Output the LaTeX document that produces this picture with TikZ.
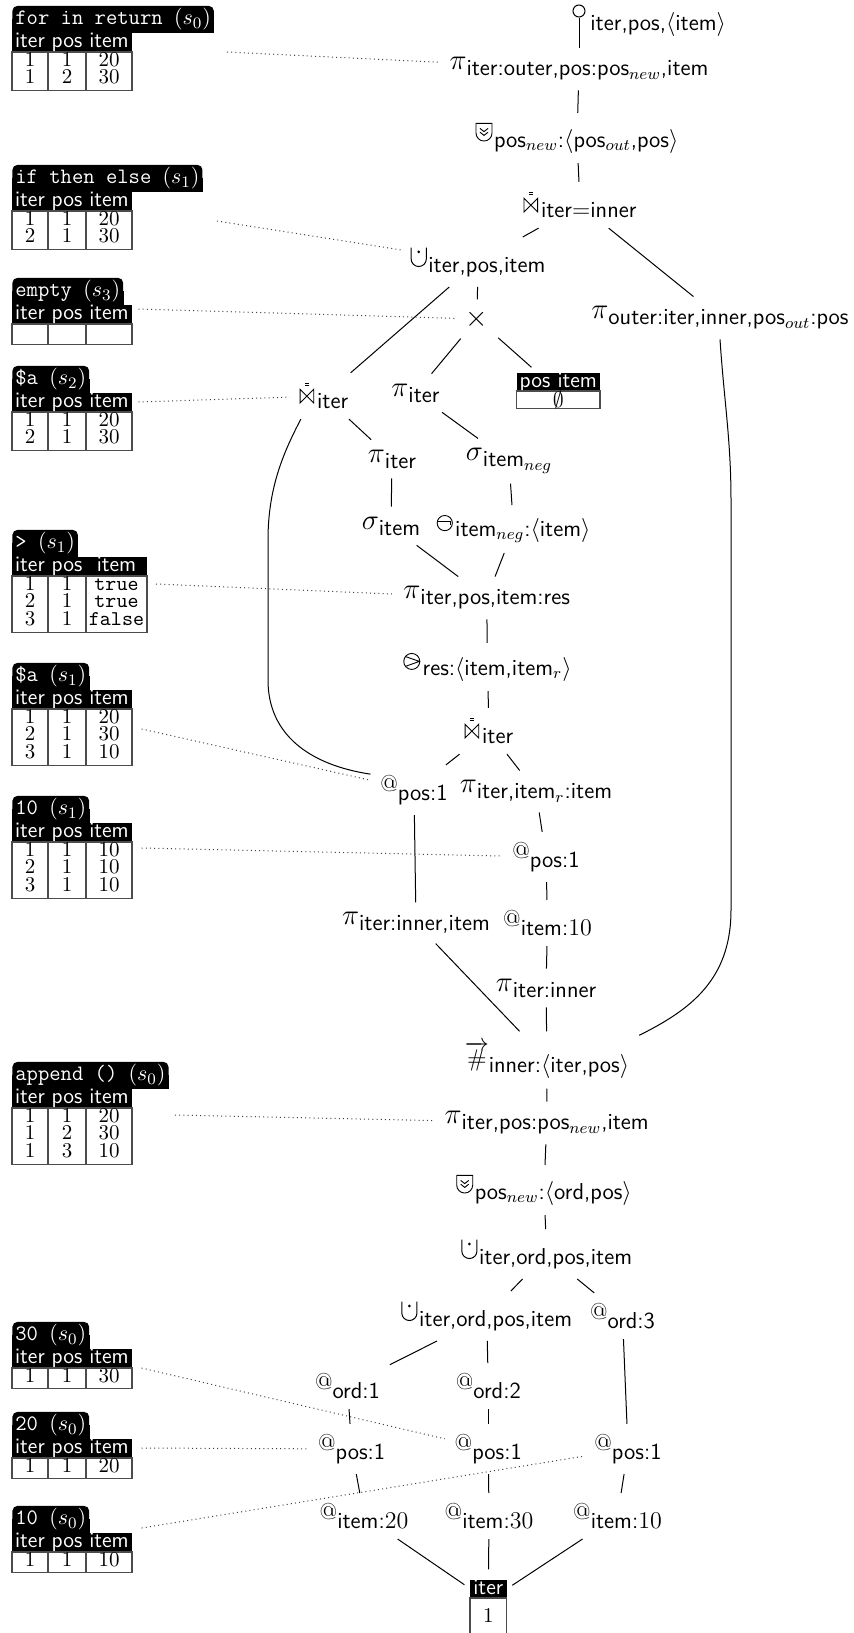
\documentclass[tikz,border=0pt]{standalone}
\usepackage{amsmath}
\usetikzlibrary{fit}
\pgfdeclarelayer{background}
\pgfsetlayers{background,main}

% font size helper
\newcommand{\fsz}[1]{\fontsize{#1}{#1}\selectfont}

% operator symbols
\newcommand{\symPi}{{\fsz{15}$\pi$}}
\newcommand{\symSigma}{{\fsz{15}$\sigma$}}
\newcommand{\symAt}{\raisebox{1.8pt}{\fsz{11.5}\rmfamily @}}
\newcommand{\symNum}{{\fsz{11.5}$\overrightarrow{\#}$}}
\newcommand{\symJoin}{\tikz[baseline=0pt,x=1pt,y=1pt,line width=0.45pt]{%
  \draw (0,0) -- (0,6.8) -- (6.8,0) -- (6.8,6.8) -- cycle;
  \draw (2.3,8.5) -- (4.5,8.5) (2.3,9.8) -- (4.5,9.8);}\hspace{1.5pt}}
\newcommand{\symUnion}{\tikz[baseline=0pt,x=1pt,y=1pt,line width=0.5pt]{%
  \draw (0,9.5) -- (0,3.8) arc[start angle=180,end angle=360,radius=3.8] -- (7.6,9.5);
  \fill (3.8,7.3) circle[radius=0.75];}\hspace{0.8pt}}
\newcommand{\symRank}{\tikz[baseline=0pt,x=1pt,y=1pt,line width=0.45pt]{%
  \draw (0,8.8) -- (0,4) arc[start angle=180,end angle=360,radius=4] -- (8,8.8) -- cycle;
  \draw (2,6.3) -- (4,4.7) -- (6,6.3) (2,4.4) -- (4,2.8) -- (6,4.4);}\hspace{0.8pt}}
\newcommand{\symNot}{\tikz[baseline=0pt,x=1pt,y=1pt,line width=0.45pt]{%
  \draw (3.8,3.6) circle[radius=3.8];
  \draw (0.4,4.3) -- (6.4,4.3) -- (6.4,2.8);}\hspace{1.2pt}}
\newcommand{\symCmp}{\tikz[baseline=0pt,x=1pt,y=1pt,line width=0.45pt]{%
  \draw (4,3.8) circle[radius=4];
  \draw (1,6.2) -- (7.8,3.8) -- (1,1.4);}\hspace{1.2pt}}
% operator symbol with its lowered annotation
\newcommand{\op}[2]{#1\raisebox{-3pt}{#2}}

% table frame: name, header top, width, title, number of rows
\newcommand{\pftab}[5]{%
  \node[tabtitle] (#1-t) at (12,#2) {#4};
  \begin{pgfonlayer}{background}
    \fill[black] (#1-t.west) rectangle (#1-t.south east);
  \end{pgfonlayer}
  \fill[black] (12,#2) rectangle (12+#3,#2+19);
  \node[hdrtext] (#1-h1) at (30,#2+14.8) {iter};
  \node[hdrtext] (#1-h2) at (67,#2+14.8) {pos};
  \node[hdrtext] (#1-h3) at (49+#3/2,#2+14.8) {item};
  \draw[tblline] (12,#2+19) rectangle (12+#3,#2+22+17.7*#5);
  \draw[tblline] (48,#2+19) -- (48,#2+22+17.7*#5) (86,#2+19) -- (86,#2+22+17.7*#5);
}
% table row: name, header top, width, row number, iter, pos, item
\newcommand{\pfrow}[7]{%
  \node[cell] (#1-#4a) at (30,#2+15.3+17.7*#4) {#5};
  \node[cell] (#1-#4b) at (67,#2+15.3+17.7*#4) {#6};
  \node[cell] (#1-#4c) at (49+#3/2,#2+15.3+17.7*#4) {#7};
}

\begin{document}
\begin{tikzpicture}[x=0.5pt,y=-0.5pt,
  opnode/.style={inner sep=5pt, outer sep=0pt, font=\fsz{11.5}\sffamily},
  link/.style={line width=0.5pt},
  dots/.style={line width=0.5pt, black!75, dash pattern=on 0.5pt off 1.6pt},
  tabtitle/.style={fill=black, text=white, rounded corners=2.5pt, inner xsep=1.5pt,
    inner ysep=1.2pt, font=\fsz{11}\ttfamily, anchor=south west},
  hdrtext/.style={text=white, inner sep=0pt, anchor=base, font=\fsz{11}\sffamily},
  cell/.style={inner sep=0pt, anchor=base, font=\fsz{10.5}},
  tblline/.style={line width=0.6pt, black!70}]
\useasboundingbox (0,0) rectangle (854,1633);

% ---------- operator nodes ----------
\node[circle, draw, line width=0.5pt, minimum size=6pt, inner sep=0pt] (serC) at (579,11) {};
\node[anchor=base west, inner sep=0pt, font=\fsz{11.5}\sffamily] (ser) at (590,31) {iter,pos,$\langle$item$\rangle$};
\node[opnode] (pi1) at (579,69) {\op{\symPi}{iter:outer,pos:pos$_{new}$,item}};
\node[opnode] (rank1) at (577,138) {\op{\symRank}{pos$_{new}$:$\langle$pos$_{out}$,pos$\rangle$}};
\node[opnode] (join1) at (580,205) {\op{\symJoin}{iter$=$inner}};
\node[opnode] (union1) at (478,262) {\op{\symUnion}{iter,pos,item}};
\node[opnode] (piOuter) at (720,318) {\op{\symPi}{outer:iter,inner,pos$_{out}$:pos}};
\node[opnode] (cross) at (477,319) {\fsz{15}$\times$};
\node[opnode] (join2) at (324,396) {\op{\symJoin}{iter}};
\node[opnode] (piIter1) at (415.5,393) {\op{\symPi}{iter}};
\node[opnode] (piIter2) at (392,459) {\op{\symPi}{iter}};
\node[opnode] (sigNeg) at (509,461) {\op{\symSigma}{item$_{neg}$}};
\node[opnode] (sigItem) at (391,526) {\op{\symSigma}{item}};
\node[opnode] (notOp) at (513.6,529) {\op{\symNot}{item$_{neg}$:$\langle$item$\rangle$}};
\node[opnode] (piRes) at (486.7,598) {\op{\symPi}{iter,pos,item:res}};
\node[opnode] (cmpOp) at (487.5,667) {\op{\symCmp}{res:$\langle$item,item$_r\rangle$}};
\node[opnode] (join3) at (489,731) {\op{\symJoin}{iter}};
\node[opnode] (atPos1) at (414,790) {\op{\symAt}{pos:1}};
\node[opnode] (piItemR) at (536,791.5) {\op{\symPi}{iter,item$_r$:item}};
\node[opnode] (atPos2) at (546,857) {\op{\symAt}{pos:1}};
\node[opnode] (piInnerItem) at (416,923) {\op{\symPi}{iter:inner,item}};
\node[opnode] (atItem10) at (547.5,923) {\op{\symAt}{item:$10$}};
\node[opnode] (piInner) at (546,988) {\op{\symPi}{iter:inner}};
\node[opnode] (rowNum) at (547,1060) {\op{\symNum}{inner:$\langle$iter,pos$\rangle$}};
\node[opnode] (pi2) at (546.7,1123) {\op{\symPi}{iter,pos:pos$_{new}$,item}};
\node[opnode] (rank2) at (544,1190) {\op{\symRank}{pos$_{new}$:$\langle$ord,pos$\rangle$}};
\node[opnode] (union2) at (546.7,1254) {\op{\symUnion}{iter,ord,pos,item}};
\node[opnode] (union3) at (486.7,1316) {\op{\symUnion}{iter,ord,pos,item}};
\node[opnode] (atOrd3) at (622.5,1316) {\op{\symAt}{ord:3}};
\node[opnode] (atOrd1) at (347.5,1386) {\op{\symAt}{ord:1}};
\node[opnode] (atOrd2) at (488.3,1386) {\op{\symAt}{ord:2}};
\node[opnode] (atPosA) at (351.7,1449) {\op{\symAt}{pos:1}};
\node[opnode] (atPosB) at (488.3,1449) {\op{\symAt}{pos:1}};
\node[opnode] (atPosC) at (628,1449) {\op{\symAt}{pos:1}};
\node[opnode] (atItem20) at (364,1516) {\op{\symAt}{item:$20$}};
\node[opnode] (atItem30) at (489,1516) {\op{\symAt}{item:$30$}};
\node[opnode] (atItem10b) at (617.5,1516) {\op{\symAt}{item:$10$}};

% empty literal table
\fill[black] (516.6,373) rectangle (600,391);
\node[hdrtext] (eT-h) at (558.3,387.8) {pos item};
\draw[tblline] (516.6,391) rectangle (600,408.5);
\node[cell, anchor=center] (eT-b) at (558.3,400) {$\emptyset$};
\node[fit=(eT-h)(eT-b), inner sep=0pt] (eT) {};

% literal table with a single iteration
\fill[black] (470,1580) rectangle (506.7,1598);
\node[hdrtext] (lit-h) at (488.3,1594.5) {iter};
\draw[tblline] (470,1598) rectangle (506.7,1636);
\node[cell] (lit-b) at (488.3,1622) {1};
\node[fit=(lit-h)(lit-b), inner sep=0pt] (lit) {};

% ---------- plan edges ----------
\draw[link] (serC) -- (pi1);
\draw[link] (pi1) -- (rank1);
\draw[link] (rank1) -- (join1);
\draw[link] (join1) -- (union1);
\draw[link] (join1) -- (piOuter);
\draw[link] (union1) -- (cross);
\draw[link] (union1) -- (join2);
\draw[link] (cross) -- (piIter1);
\draw[link, shorten >=4pt] (cross) -- (eT);
\draw[link] (join2) -- (piIter2);
\draw[link] (piIter1) -- (sigNeg);
\draw[link] (piIter2) -- (sigItem);
\draw[link] (sigNeg) -- (notOp);
\draw[link] (sigItem) -- (piRes);
\draw[link] (notOp) -- (piRes);
\draw[link] (piRes) -- (cmpOp);
\draw[link] (cmpOp) -- (join3);
\draw[link] (join3) -- (atPos1);
\draw[link] (join3) -- (piItemR);
\draw[link] (join2.225) .. controls (282,455) and (268,490) .. (268,540)
  -- (268,680) .. controls (268,735) and (310,765) .. (atPos1.160);
\draw[link] (atPos1) -- (piInnerItem);
\draw[link] (piItemR) -- (atPos2);
\draw[link] (atPos2) -- (atItem10);
\draw[link] (atItem10) -- (piInner);
\draw[link] (piInnerItem) -- (rowNum);
\draw[link] (piInner) -- (rowNum);
\draw[link] (piOuter.south) .. controls (724,400) and (731,440) .. (731,500)
  -- (731,910) .. controls (731,980) and (690,1010) .. (rowNum.15);
\draw[link] (rowNum) -- (pi2);
\draw[link] (pi2) -- (rank2);
\draw[link] (rank2) -- (union2);
\draw[link] (union2) -- (union3);
\draw[link] (union2) -- (atOrd3);
\draw[link] (union3) -- (atOrd1);
\draw[link] (union3) -- (atOrd2);
\draw[link] (atOrd3) -- (atPosC);
\draw[link] (atOrd1) -- (atPosA);
\draw[link] (atOrd2) -- (atPosB);
\draw[link] (atPosA) -- (atItem20);
\draw[link] (atPosB) -- (atItem30);
\draw[link] (atPosC) -- (atItem10b);
\draw[link, shorten >=5pt] (atItem20) -- (lit);
\draw[link, shorten >=5pt] (atItem30) -- (lit);
\draw[link, shorten >=5pt] (atItem10b) -- (lit);

% ---------- intermediate result tables ----------
\pftab{Ta}{33}{120}{for in return $(s_0)$}{2}
\pfrow{Ta}{33}{120}{1}{1}{1}{20}
\pfrow{Ta}{33}{120}{2}{1}{2}{30}
\coordinate (Ta-link) at (227,52);

\pftab{Tb}{192}{120}{if then else $(s_1)$}{2}
\pfrow{Tb}{192}{120}{1}{1}{1}{20}
\pfrow{Tb}{192}{120}{2}{2}{1}{30}
\coordinate (Tb-link) at (217,221);

\pftab{Tc}{305}{120}{empty $(s_3)$}{1}
\coordinate (Tc-link) at (138.5,309);

\pftab{Td}{393}{120}{\$a $(s_2)$}{2}
\pfrow{Td}{393}{120}{1}{1}{1}{20}
\pfrow{Td}{393}{120}{2}{2}{1}{30}
\coordinate (Td-link) at (138.5,402);

\pftab{Te}{557}{135}{> $(s_1)$}{3}
\pfrow{Te}{557}{135}{1}{1}{1}{\texttt{true}}
\pfrow{Te}{557}{135}{2}{2}{1}{\texttt{true}}
\pfrow{Te}{557}{135}{3}{3}{1}{\texttt{false}}
\coordinate (Te-link) at (156,584);

\pftab{Tf}{690}{120}{\$a $(s_1)$}{3}
\pfrow{Tf}{690}{120}{1}{1}{1}{20}
\pfrow{Tf}{690}{120}{2}{2}{1}{30}
\pfrow{Tf}{690}{120}{3}{3}{1}{10}
\coordinate (Tf-link) at (141.6,729);

\pftab{Tg}{823}{120}{10 $(s_1)$}{3}
\pfrow{Tg}{823}{120}{1}{1}{1}{10}
\pfrow{Tg}{823}{120}{2}{2}{1}{10}
\pfrow{Tg}{823}{120}{3}{3}{1}{10}
\coordinate (Tg-link) at (141.6,848);

\pftab{Th}{1089}{120}{append () $(s_0)$}{3}
\pfrow{Th}{1089}{120}{1}{1}{1}{20}
\pfrow{Th}{1089}{120}{2}{1}{2}{30}
\pfrow{Th}{1089}{120}{3}{1}{3}{10}
\coordinate (Th-link) at (175,1115);

\pftab{Ti}{1349}{120}{30 $(s_0)$}{1}
\pfrow{Ti}{1349}{120}{1}{1}{1}{30}
\coordinate (Ti-link) at (141.6,1368);

\pftab{Tj}{1439}{120}{20 $(s_0)$}{1}
\pfrow{Tj}{1439}{120}{1}{1}{1}{20}
\coordinate (Tj-link) at (141.6,1448);

\pftab{Tk}{1533}{120}{10 $(s_0)$}{1}
\pfrow{Tk}{1533}{120}{1}{1}{1}{10}
\coordinate (Tk-link) at (141.6,1528);

% ---------- table annotations ----------
\draw[dots] (Ta-link) -- (pi1);
\draw[dots] (Tb-link) -- (union1);
\draw[dots] (Tc-link) -- (cross);
\draw[dots] (Td-link) -- (join2);
\draw[dots] (Te-link) -- (piRes);
\draw[dots] (Tf-link) -- (atPos1);
\draw[dots] (Tg-link) -- (atPos2);
\draw[dots] (Th-link) -- (pi2);
\draw[dots] (Ti-link) -- (atPosB);
\draw[dots] (Tj-link) -- (atPosA);
\draw[dots] (Tk-link) -- (atPosC);
\end{tikzpicture}
\end{document}
